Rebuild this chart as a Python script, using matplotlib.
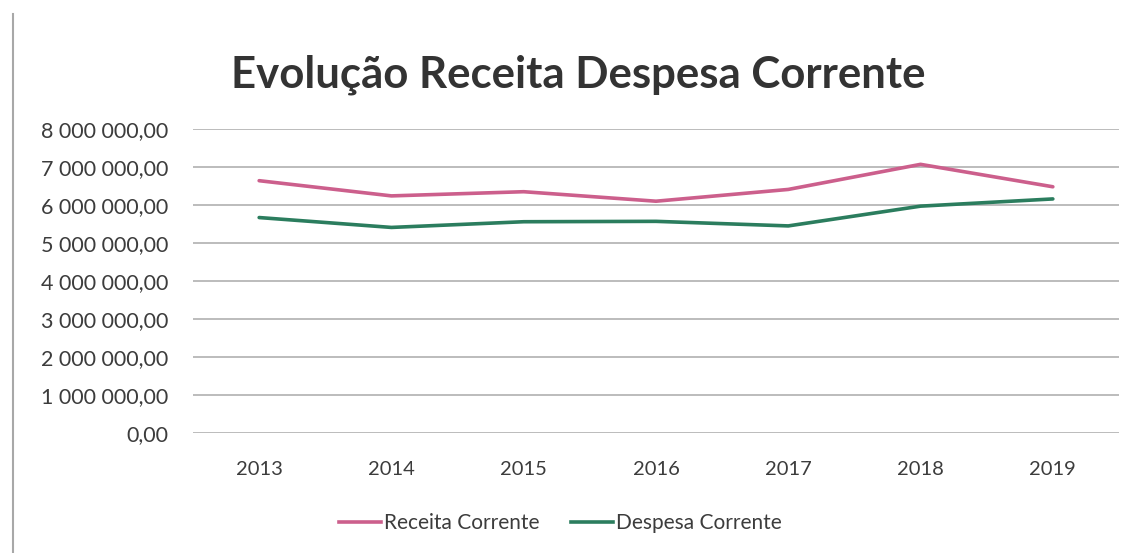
import matplotlib
matplotlib.use("Agg")
import matplotlib.pyplot as plt
from matplotlib.ticker import FuncFormatter
from matplotlib.lines import Line2D

years = ["2013", "2014", "2015", "2016", "2017", "2018", "2019"]
receita = [6640000, 6240000, 6350000, 6100000, 6410000, 7070000, 6480000]
despesa = [5670000, 5410000, 5560000, 5570000, 5450000, 5970000, 6160000]
yticks = [0, 1000000, 2000000, 3000000, 4000000, 5000000, 6000000, 7000000, 8000000]

plt.rcParams['font.family'] = ['Lato', 'DejaVu Sans']

fig = plt.figure(figsize=(11.32, 5.53), dpi=100)
ax = fig.add_axes([0.1705, 0.217, 0.818, 0.5497])

x = range(len(years))
ax.plot(x, receita, color='#cc5f8c', lw=2.6, label='Receita Corrente', solid_capstyle='round')
ax.plot(x, despesa, color='#2b7d5e', lw=2.6, label='Despesa Corrente', solid_capstyle='round')

ax.set_xlim(-0.5, len(years) - 0.5)
ax.set_ylim(0, 8000000)
ax.set_yticks(yticks)

def fmt(v, pos):
    s = f"{v:,.2f}"
    ip, dp = s.split('.')
    return ip.replace(',', ' ') + ',' + dp

ax.yaxis.set_major_formatter(FuncFormatter(fmt))
ax.set_xticks(list(x))
ax.set_xticklabels(years)
ax.grid(axis='y', color='#b0b0b0', lw=1.2)
ax.set_axisbelow(True)
for s in ax.spines.values():
    s.set_visible(False)
ax.tick_params(axis='y', length=0, labelsize=15.5, labelcolor='#3c3c3c', pad=18)
ax.tick_params(axis='x', length=0, labelsize=14.5, labelcolor='#3c3c3c', pad=20)

fig.text(0.511, 0.865, "Evolução Receita Despesa Corrente", ha='center', va='center',
         fontsize=31.5, fontweight='bold', color='#333333')

handles = [Line2D([0], [0], color='#cc5f8c', lw=2.6), Line2D([0], [0], color='#2b7d5e', lw=2.6)]
fig.legend(handles, ['Receita Corrente', 'Despesa Corrente'], loc='center',
           bbox_to_anchor=(0.495, 0.054), ncol=2, frameon=False, fontsize=15,
           handlelength=2.0, handletextpad=0.15, columnspacing=1.5, labelcolor='#3c3c3c')

fig.add_artist(Line2D([0.0115, 0.0115], [0.0, 0.975], transform=fig.transFigure,
                      color='#a8a8a8', lw=1.5))

fig.savefig("out.png", dpi=100, facecolor='white')
